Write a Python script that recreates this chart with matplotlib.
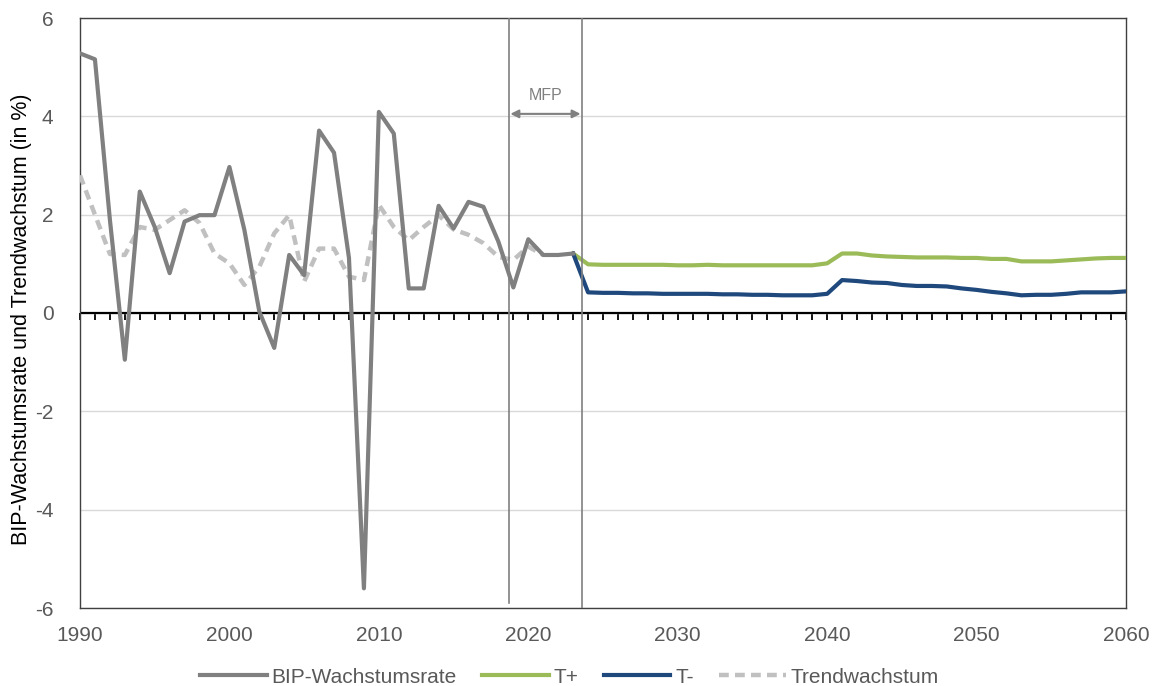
import numpy as np
import matplotlib
matplotlib.use('Agg')
import matplotlib.pyplot as plt

plt.rcParams['font.family'] = ['Liberation Sans', 'DejaVu Sans']
plt.rcParams['axes.unicode_minus'] = False

# BIP-Wachstumsrate 1990-2023
bip_years = list(range(1990, 2024))
bip = [5.28, 5.16, 1.9, -0.95, 2.47, 1.75, 0.81, 1.86, 1.99, 1.99,
       2.97, 1.69, 0.03, -0.71, 1.18, 0.77, 3.71, 3.26, 1.12, -5.6,
       4.09, 3.65, 0.50, 0.50, 2.18, 1.72, 2.26, 2.16, 1.45, 0.52,
       1.50, 1.18, 1.18, 1.21]

# Szenarien 2023-2060
t_years = list(range(2023, 2061))
t_plus = [1.21, 0.99, 0.98, 0.98, 0.98, 0.98, 0.98, 0.97, 0.97, 0.98,
          0.97, 0.97, 0.97, 0.97, 0.97, 0.97, 0.97, 1.01, 1.21, 1.21,
          1.17, 1.15, 1.14, 1.13, 1.13, 1.13, 1.12, 1.12, 1.10, 1.10,
          1.05, 1.05, 1.05, 1.07, 1.09, 1.11, 1.12, 1.12]
t_minus = [1.21, 0.42, 0.41, 0.41, 0.40, 0.40, 0.39, 0.39, 0.39, 0.39,
           0.38, 0.38, 0.37, 0.37, 0.36, 0.36, 0.36, 0.39, 0.67, 0.65,
           0.62, 0.61, 0.57, 0.55, 0.55, 0.54, 0.50, 0.47, 0.43, 0.40,
           0.36, 0.37, 0.37, 0.39, 0.42, 0.42, 0.42, 0.44]

# Trendwachstum 1990-2021
trend_years = list(range(1990, 2022))
trend = [2.80, 2.0, 1.2, 1.18, 1.75, 1.69, 1.89, 2.09, 1.83, 1.21,
         1.01, 0.57, 0.94, 1.62, 1.99, 0.64, 1.31, 1.31, 0.74, 0.67,
         2.20, 1.75, 1.48, 1.75, 1.99, 1.70, 1.59, 1.42, 1.14, 1.08,
         1.35, 1.18]

mfp_start = 2018.7
mfp_end = 2023.6

c_bip = '#808080'
c_plus = '#9bbb59'
c_minus = '#1f497d'
c_trend = '#c0c0c0'
c_text = '#595959'

fig = plt.figure(figsize=(11.53, 6.86), dpi=100)
ax = fig.add_axes([80/1153, 78/686, 1046/1153, 590/686])

ax.set_xlim(1990, 2060)
ax.set_ylim(-6, 6)
ax.set_yticks(range(-6, 7, 2))
ax.set_xticks(range(1990, 2061, 10))
ax.tick_params(axis='both', length=0, labelsize=15, labelcolor=c_text)
ax.tick_params(axis='x', pad=13)
ax.tick_params(axis='y', pad=19)
ax.grid(axis='y', color='#d9d9d9', lw=1)
ax.set_axisbelow(True)
for s in ax.spines.values():
    s.set_color('#404040')
    s.set_linewidth(1)

ax.set_ylabel('BIP-Wachstumsrate und Trendwachstum (in %)', fontsize=15.5)
ax.yaxis.set_label_coords(-0.046, 0.49)

# Nulllinie mit Jahres-Strichen
ax.axhline(0, color='black', lw=1.6, zorder=2)
sec = ax.secondary_xaxis(0.5)
sec.set_xticks(range(1990, 2061))
sec.tick_params(axis='x', direction='in', length=5, width=1.3,
                labelbottom=False, labeltop=False, color='black')
for s in sec.spines.values():
    s.set_visible(False)

ax.plot(trend_years, trend, color=c_trend, lw=3.2, dashes=(2.2, 1.4), label='Trendwachstum', zorder=3)
ax.plot(t_years, t_plus, color=c_plus, lw=3, label='T+', zorder=4)
ax.plot(t_years, t_minus, color=c_minus, lw=3, label='T-', zorder=4)
ax.plot(bip_years, bip, color=c_bip, lw=3, label='BIP-Wachstumsrate', zorder=5)

# MFP-Zeitraum
ax.plot([mfp_start, mfp_start], [-5.9, 6], color='#808080', lw=1.2, zorder=6)
ax.plot([mfp_end, mfp_end], [-6, 6], color='#808080', lw=1.2, zorder=6)
ax.annotate('', xy=(mfp_start + 0.1, 4.05), xytext=(mfp_end - 0.1, 4.05),
            arrowprops=dict(arrowstyle='<|-|>', color='#808080', lw=1.5,
                            mutation_scale=12, shrinkA=0, shrinkB=0))
ax.text((mfp_start + mfp_end) / 2, 4.28, 'MFP', color='#808080', fontsize=11.5,
        ha='center', va='bottom')

h, l = ax.get_legend_handles_labels()
order = [3, 1, 2, 0]
leg = ax.legend([h[i] for i in order], [l[i] for i in order], loc='lower center',
                bbox_to_anchor=(0.468, -0.165), ncol=4, frameon=False, fontsize=15,
                handlelength=3.2, columnspacing=1.2, handletextpad=0.25)
for t in leg.get_texts():
    t.set_color(c_text)

fig.savefig('out.png', dpi=100)
